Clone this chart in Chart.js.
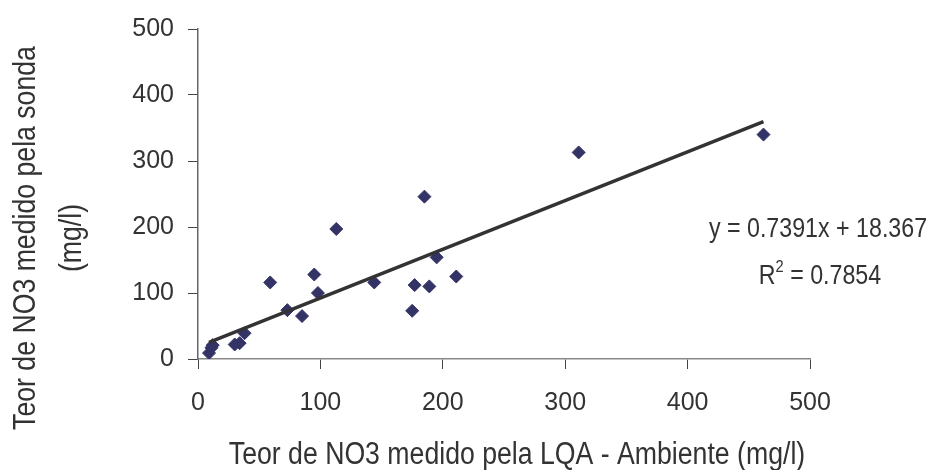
<!DOCTYPE html>
<html>
<head>
<meta charset="utf-8">
<script src="https://cdn.jsdelivr.net/npm/chart.js@4"></script>
<style>
	body { margin: 0; background: #ffffff; }
	#wrap { width: 936px; height: 470px; }
</style>
</head>
<body>
<div id="wrap"><canvas id="myScatter" width="936" height="470"></canvas></div>
<script>
// 측정값 (LQA x, sonda y)
const lqaValues = [9, 11, 12, 30, 34, 38, 59, 73, 85, 95, 98, 113, 144, 175, 177, 185, 189, 195, 211, 311, 462];
const sondaValues = [9, 17, 21, 22, 24, 39, 116, 74, 65, 128, 100, 197, 116, 73, 112, 246, 110, 154, 125, 313, 340];
const tickValues = [0, 100, 200, 300, 400, 500];

// 추세선 계수
const slope = 0.7391;
const intercept = 18.367;
const r2 = 0.7854;

const xTitle = 'Teor de NO3 medido pela LQA - Ambiente (mg/l)';
const yTitle = ['Teor de NO3 medido pela sonda', '(mg/l)'];
const eqText = 'y = ' + slope + 'x + ' + intercept;

const FONT = '"Liberation Sans", Arial, sans-serif';
const TEXT_COLOR = '#333333';
const NARROW = 0.86; // 좁은 글꼴 흉내

const points = lqaValues.map(function(x, i) {
	return { x: x, y: sondaValues[i] };
});
const xMin = Math.min.apply(null, lqaValues);
const xMax = Math.max.apply(null, lqaValues);
const trend = [
	{ x: xMin, y: slope * xMin + intercept },
	{ x: xMax, y: slope * xMax + intercept }
];

// 가로로 좁힌 텍스트 그리기
function narrowText(ctx, text, x, y, rot) {
	ctx.save();
	ctx.translate(x, y);
	if (rot) ctx.rotate(rot);
	ctx.scale(NARROW, 1);
	ctx.fillText(text, 0, 0);
	ctx.restore();
}

// 축 제목과 회귀식 텍스트
const textPlugin = {
	id: 'textPlugin',
	afterDraw: function(chart) {
		const ctx = chart.ctx;
		ctx.save();
		ctx.fillStyle = TEXT_COLOR;

		// y축 제목 (회전)
		ctx.font = '31px ' + FONT;
		ctx.textAlign = 'center';
		ctx.textBaseline = 'middle';
		yTitle.forEach(function(line, i) {
			narrowText(ctx, line, 26 + i * 46, 238, -Math.PI / 2);
		});

		// x축 제목
		ctx.textBaseline = 'alphabetic';
		narrowText(ctx, xTitle, 517, 464, 0);

		// 회귀식
		ctx.font = '27px ' + FONT;
		narrowText(ctx, eqText, 818, 237, 0);
		const rRest = ' = ' + r2;
		const wR = ctx.measureText('R').width * NARROW;
		const wRest = ctx.measureText(rRest).width * NARROW;
		ctx.font = '17px ' + FONT;
		const wSup = ctx.measureText('2').width * NARROW;
		const startX = 820 - (wR + wSup + wRest) / 2;
		ctx.textAlign = 'left';
		ctx.font = '27px ' + FONT;
		narrowText(ctx, 'R', startX, 284, 0);
		narrowText(ctx, rRest, startX + wR + wSup, 284, 0);
		ctx.font = '17px ' + FONT;
		narrowText(ctx, '2', startX + wR, 272, 0);
		ctx.restore();
	}
};

const ctx = document.getElementById('myScatter').getContext('2d');
const myScatter = new Chart(ctx, {
	type: 'scatter',
	data: {
		datasets: [{
			type: 'line',
			label: 'trend',
			data: trend,
			borderColor: '#333333',
			borderWidth: 3.5,
			pointRadius: 0,
			fill: false
		}, {
			label: 'NO3',
			data: points,
			pointStyle: 'rectRot',
			pointRadius: 6.5,
			backgroundColor: '#333366',
			borderColor: '#333366',
			borderWidth: 1
		}]
	},
	options: {
		responsive: false,
		animation: false,
		layout: {
			padding: { left: 0, top: 29, right: 126, bottom: 0 }
		},
		scales: {
			x: {
				type: 'linear',
				min: 0,
				max: 500,
				afterFit: function(scale) { scale.height = 111; },
				afterBuildTicks: function(scale) {
					scale.ticks = tickValues.map(function(v) { return { value: v }; });
				},
				border: { display: true, color: '#888888', width: 1.5 },
				grid: { drawOnChartArea: false, drawTicks: true, tickLength: 10, color: '#444444' },
				ticks: {
					color: TEXT_COLOR,
					padding: 19,
					font: { family: FONT, size: 25 }
				}
			},
			y: {
				type: 'linear',
				min: 0,
				max: 500,
				afterFit: function(scale) { scale.width = 198; },
				afterBuildTicks: function(scale) {
					scale.ticks = tickValues.map(function(v) { return { value: v }; });
				},
				border: { display: true, color: '#666666', width: 1.5 },
				grid: { drawOnChartArea: false, drawTicks: true, tickLength: 10, color: '#444444' },
				ticks: {
					color: TEXT_COLOR,
					padding: 14,
					font: { family: FONT, size: 25 }
				}
			}
		},
		plugins: {
			legend: { display: false },
			tooltip: { enabled: false }
		}
	},
	plugins: [textPlugin]
});
</script>
</body>
</html>
